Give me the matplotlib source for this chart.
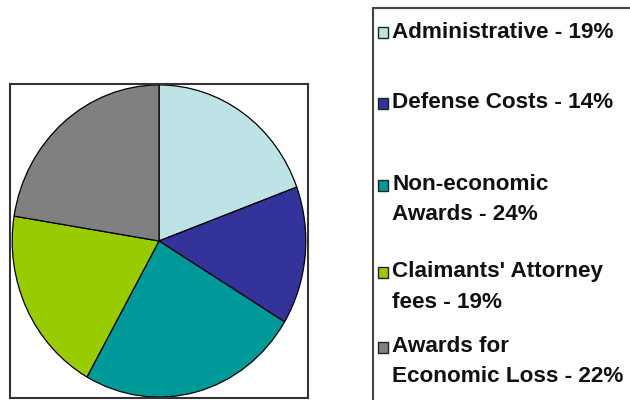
import matplotlib.pyplot as plt
from matplotlib.patches import Rectangle

# data
categories = ["Administrative", "Defense Costs", "Non-economic\nAwards",
              "Claimants' Attorney\nfees", "Awards for\nEconomic Loss"]
shares = [19, 14, 24, 19, 22]
colors = ["#BDE3E6", "#333399", "#009999", "#99CC00", "#808080"]

W, H = 630, 400
fig = plt.figure(figsize=(W / 100, H / 100), dpi=100)

# pie inside its framed box
box_l, box_t, box_r, box_b = 10, 84, 308, 398
ax = fig.add_axes([box_l / W, 1 - box_b / H, (box_r - box_l) / W, (box_b - box_t) / H])
ax.pie(shares, colors=colors, startangle=90, counterclock=False,
       wedgeprops=dict(edgecolor="black", linewidth=0.9))
ax.set_aspect("auto")
ax.set_xlim(-1.015, 1.015)
ax.set_ylim(-1.006, 1.006)
ax.set_frame_on(True)
for s in ax.spines.values():
    s.set_visible(True)
    s.set_color("#333333")
    s.set_linewidth(1.5)
ax.set_xticks([])
ax.set_yticks([])

# legend frame, running off the right and bottom edges
fig.patches.append(Rectangle((373 / W, -0.05), 0.5, 1.05 - 8 / H,
                             transform=fig.transFigure, fill=False,
                             edgecolor="#444444", linewidth=1.5))

entry_y = [32, 103, 185, 272, 347]
line_h = 30
for label, pct, col, y in zip(categories, shares, colors, entry_y):
    fig.patches.append(Rectangle((378 / W, 1 - (y + 6) / H), 10 / W, 11 / H,
                                 transform=fig.transFigure, facecolor=col,
                                 edgecolor="#222222", linewidth=1.0))
    lines = f"{label} - {pct}%".split("\n")
    for i, ln in enumerate(lines):
        fig.text(392 / W, 1 - (y + i * line_h) / H, ln, fontsize=16.2,
                 fontweight="bold", family="Liberation Sans",
                 va="center", ha="left", color="#111111")

fig.savefig("out.png", dpi=100)
